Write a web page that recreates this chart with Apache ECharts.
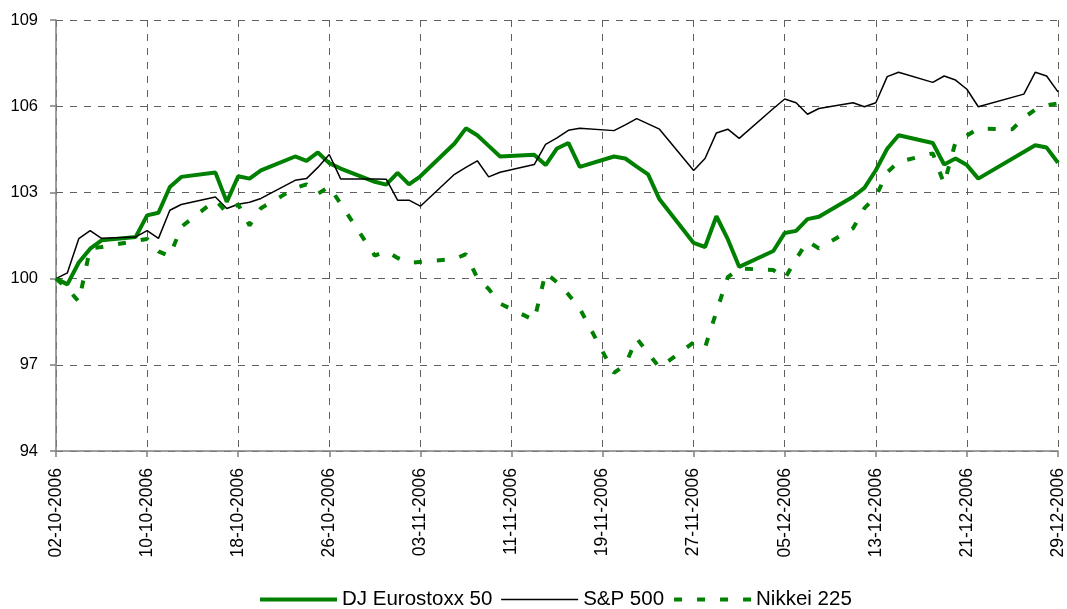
<!DOCTYPE html>
<html>
<head>
<meta charset="utf-8">
<script src="https://cdn.jsdelivr.net/npm/echarts@6/dist/echarts.min.js"></script>
<style>
  html, body { margin: 0; padding: 0; background: #fff; }
  #chart { width: 1067px; height: 609px; }
</style>
</head>
<body>
<div id="chart"></div>
<script>
// trading days (weekdays), holidays are null in the series
const dates = [
  '2006-10-02', '2006-10-03', '2006-10-04', '2006-10-05', '2006-10-06',
  '2006-10-09', '2006-10-10', '2006-10-11', '2006-10-12', '2006-10-13',
  '2006-10-16', '2006-10-17', '2006-10-18', '2006-10-19', '2006-10-20',
  '2006-10-23', '2006-10-24', '2006-10-25', '2006-10-26', '2006-10-27',
  '2006-10-30', '2006-10-31',
  '2006-11-01', '2006-11-02', '2006-11-03',
  '2006-11-06', '2006-11-07', '2006-11-08', '2006-11-09', '2006-11-10',
  '2006-11-13', '2006-11-14', '2006-11-15', '2006-11-16', '2006-11-17',
  '2006-11-20', '2006-11-21', '2006-11-22', '2006-11-23', '2006-11-24',
  '2006-11-27', '2006-11-28', '2006-11-29', '2006-11-30',
  '2006-12-01',
  '2006-12-04', '2006-12-05', '2006-12-06', '2006-12-07', '2006-12-08',
  '2006-12-11', '2006-12-12', '2006-12-13', '2006-12-14', '2006-12-15',
  '2006-12-18', '2006-12-19', '2006-12-20', '2006-12-21', '2006-12-22',
  '2006-12-25', '2006-12-26', '2006-12-27', '2006-12-28', '2006-12-29'
]

const eurostoxx = [
  100, 99.8, 100.56, 101.04, 101.33,
  101.45, 102.2, 102.29, 103.19, 103.54,
  103.69, 102.67, 103.56, 103.48, 103.77,
  104.25, 104.1, 104.39, 104.02, 103.83,
  103.37, 103.27,
  103.68, 103.28, 103.56,
  104.7, 105.23, 104.99, 104.62, 104.25,
  104.31, 103.95, 104.53, 104.72, 103.89,
  104.25, 104.18, 103.9, 103.63, 102.76,
  101.24, 101.1, 102.17, 101.37,
  100.41,
  100.96, 101.59, 101.66, 102.07, 102.15,
  102.85, 103.16, 103.77, 104.52, 104.99,
  104.72, 103.97, 104.18, 103.95, 103.48,
  null, null, 104.64, 104.56, 104.03
]

const sp500 = [
  100, 100.2, 101.39, 101.67, 101.4,
  101.45, 101.67, 101.4, 102.38, 102.58,
  102.84, 102.44, 102.59, 102.66, 102.79,
  103.42, 103.48, 103.87, 104.32, 103.47,
  103.47, 103.46,
  102.73, 102.73, 102.52,
  103.63, 103.87, 104.1, 103.54, 103.7,
  103.97, 104.67, 104.9, 105.16, 105.23,
  105.15, 105.35, 105.57, null, 105.2,
  103.76, 104.18, 105.07, 105.2,
  104.88,
  105.92, 106.25, 106.12, 105.72, 105.92,
  106.12, 105.98, 106.12, 107.03, 107.18,
  106.83, 107.05, 106.91, 106.59, 105.98,
  null, 106.42, 107.18, 107.05, 106.5
]

const nikkei = [
  100, 99.65, 99.2, 101.05, 101.1,
  null, 101.38, 100.95, 100.78, 101.8,
  102.73, 102.3, 102.58, 101.85, 102.45,
  103.15, 103.28, 102.95, 103.2, 102.6,
  100.8, 100.95,
  100.72, 100.55, null,
  100.68, 100.85, 100.02, 99.64, 99.13,
  98.55, 100.2, 99.87, 99.45, 98.96,
  96.72, 97.0, 97.92, null, 96.9,
  97.78, 97.6, 98.85, 100.05,
  100.35,
  100.3, 100.0, 100.68, 101.3, 101.05,
  101.75, 102.45, 102.85, 103.7, 104.06,
  104.36, 103.3, 104.75, 104.98, 105.22,
  105.2, 105.6, 105.88, 106.03, 106.1
]

const DAY = 86400000
const start = Date.parse(dates[0])
const dayIndex = dates.map(d => (Date.parse(d) - start) / DAY)

const toPoints = values => values
  .map((v, i) => [dayIndex[i], v])
  .filter(p => p[1] !== null)

const fmtDate = d => {
  const t = new Date(start + d * DAY)
  const dd = String(t.getUTCDate()).padStart(2, '0')
  const mm = String(t.getUTCMonth() + 1).padStart(2, '0')
  return dd + '-' + mm + '-' + t.getUTCFullYear()
}

const font = "'Liberation Sans', Arial, sans-serif"
const gridLine = { show: true, lineStyle: { color: '#606060', width: 1, type: [7, 7] } }
const nikkeiDash = [8, 15]

const chart = echarts.init(document.getElementById('chart'))

const option = {
  animation: false,
  backgroundColor: '#fff',
  textStyle: { fontFamily: font },
  grid: { left: 56, right: 7, top: 20, bottom: 158 },
  legend: {
    left: 253,
    top: 584,
    itemWidth: 77,
    itemHeight: 20,
    itemGap: 8,
    itemStyle: { opacity: 0 },
    textStyle: { fontSize: 20.5, color: '#000', fontFamily: font },
    data: [
      { name: 'DJ Eurostoxx 50', lineStyle: { width: 4, color: '#008000' } },
      { name: 'S&P 500', lineStyle: { width: 1.5, color: '#000' } },
      { name: 'Nikkei 225', lineStyle: { width: 4, color: '#008000', type: nikkeiDash, cap: 'butt' } }
    ]
  },
  xAxis: {
    type: 'value',
    min: 0,
    max: 88,
    interval: 8,
    axisLine: { lineStyle: { color: '#808080', width: 1.5 } },
    axisTick: { show: true, length: 6, lineStyle: { color: '#808080', width: 1.5 } },
    axisLabel: {
      rotate: 90,
      margin: 17,
      color: '#000',
      fontSize: 17.5,
      fontFamily: font,
      formatter: fmtDate
    },
    splitLine: gridLine
  },
  yAxis: {
    type: 'value',
    min: 94,
    max: 109,
    interval: 3,
    axisLine: { show: true, lineStyle: { color: '#808080', width: 1.5 } },
    axisTick: { show: true, length: 6, lineStyle: { color: '#808080', width: 1.5 } },
    axisLabel: { margin: 18, color: '#000', fontSize: 16.5, fontFamily: font },
    splitLine: gridLine
  },
  series: [
    {
      name: 'DJ Eurostoxx 50',
      type: 'line',
      showSymbol: false,
      symbol: 'none',
      color: '#008000',
      lineStyle: { color: '#008000', width: 4 },
      data: toPoints(eurostoxx)
    },
    {
      name: 'S&P 500',
      type: 'line',
      showSymbol: false,
      symbol: 'none',
      color: '#000',
      lineStyle: { color: '#000', width: 1.5 },
      data: toPoints(sp500)
    },
    {
      name: 'Nikkei 225',
      type: 'line',
      showSymbol: false,
      symbol: 'none',
      color: '#008000',
      lineStyle: { color: '#008000', width: 4, type: nikkeiDash, cap: 'butt' },
      data: toPoints(nikkei)
    }
  ]
}

chart.setOption(option)
</script>
</body>
</html>
